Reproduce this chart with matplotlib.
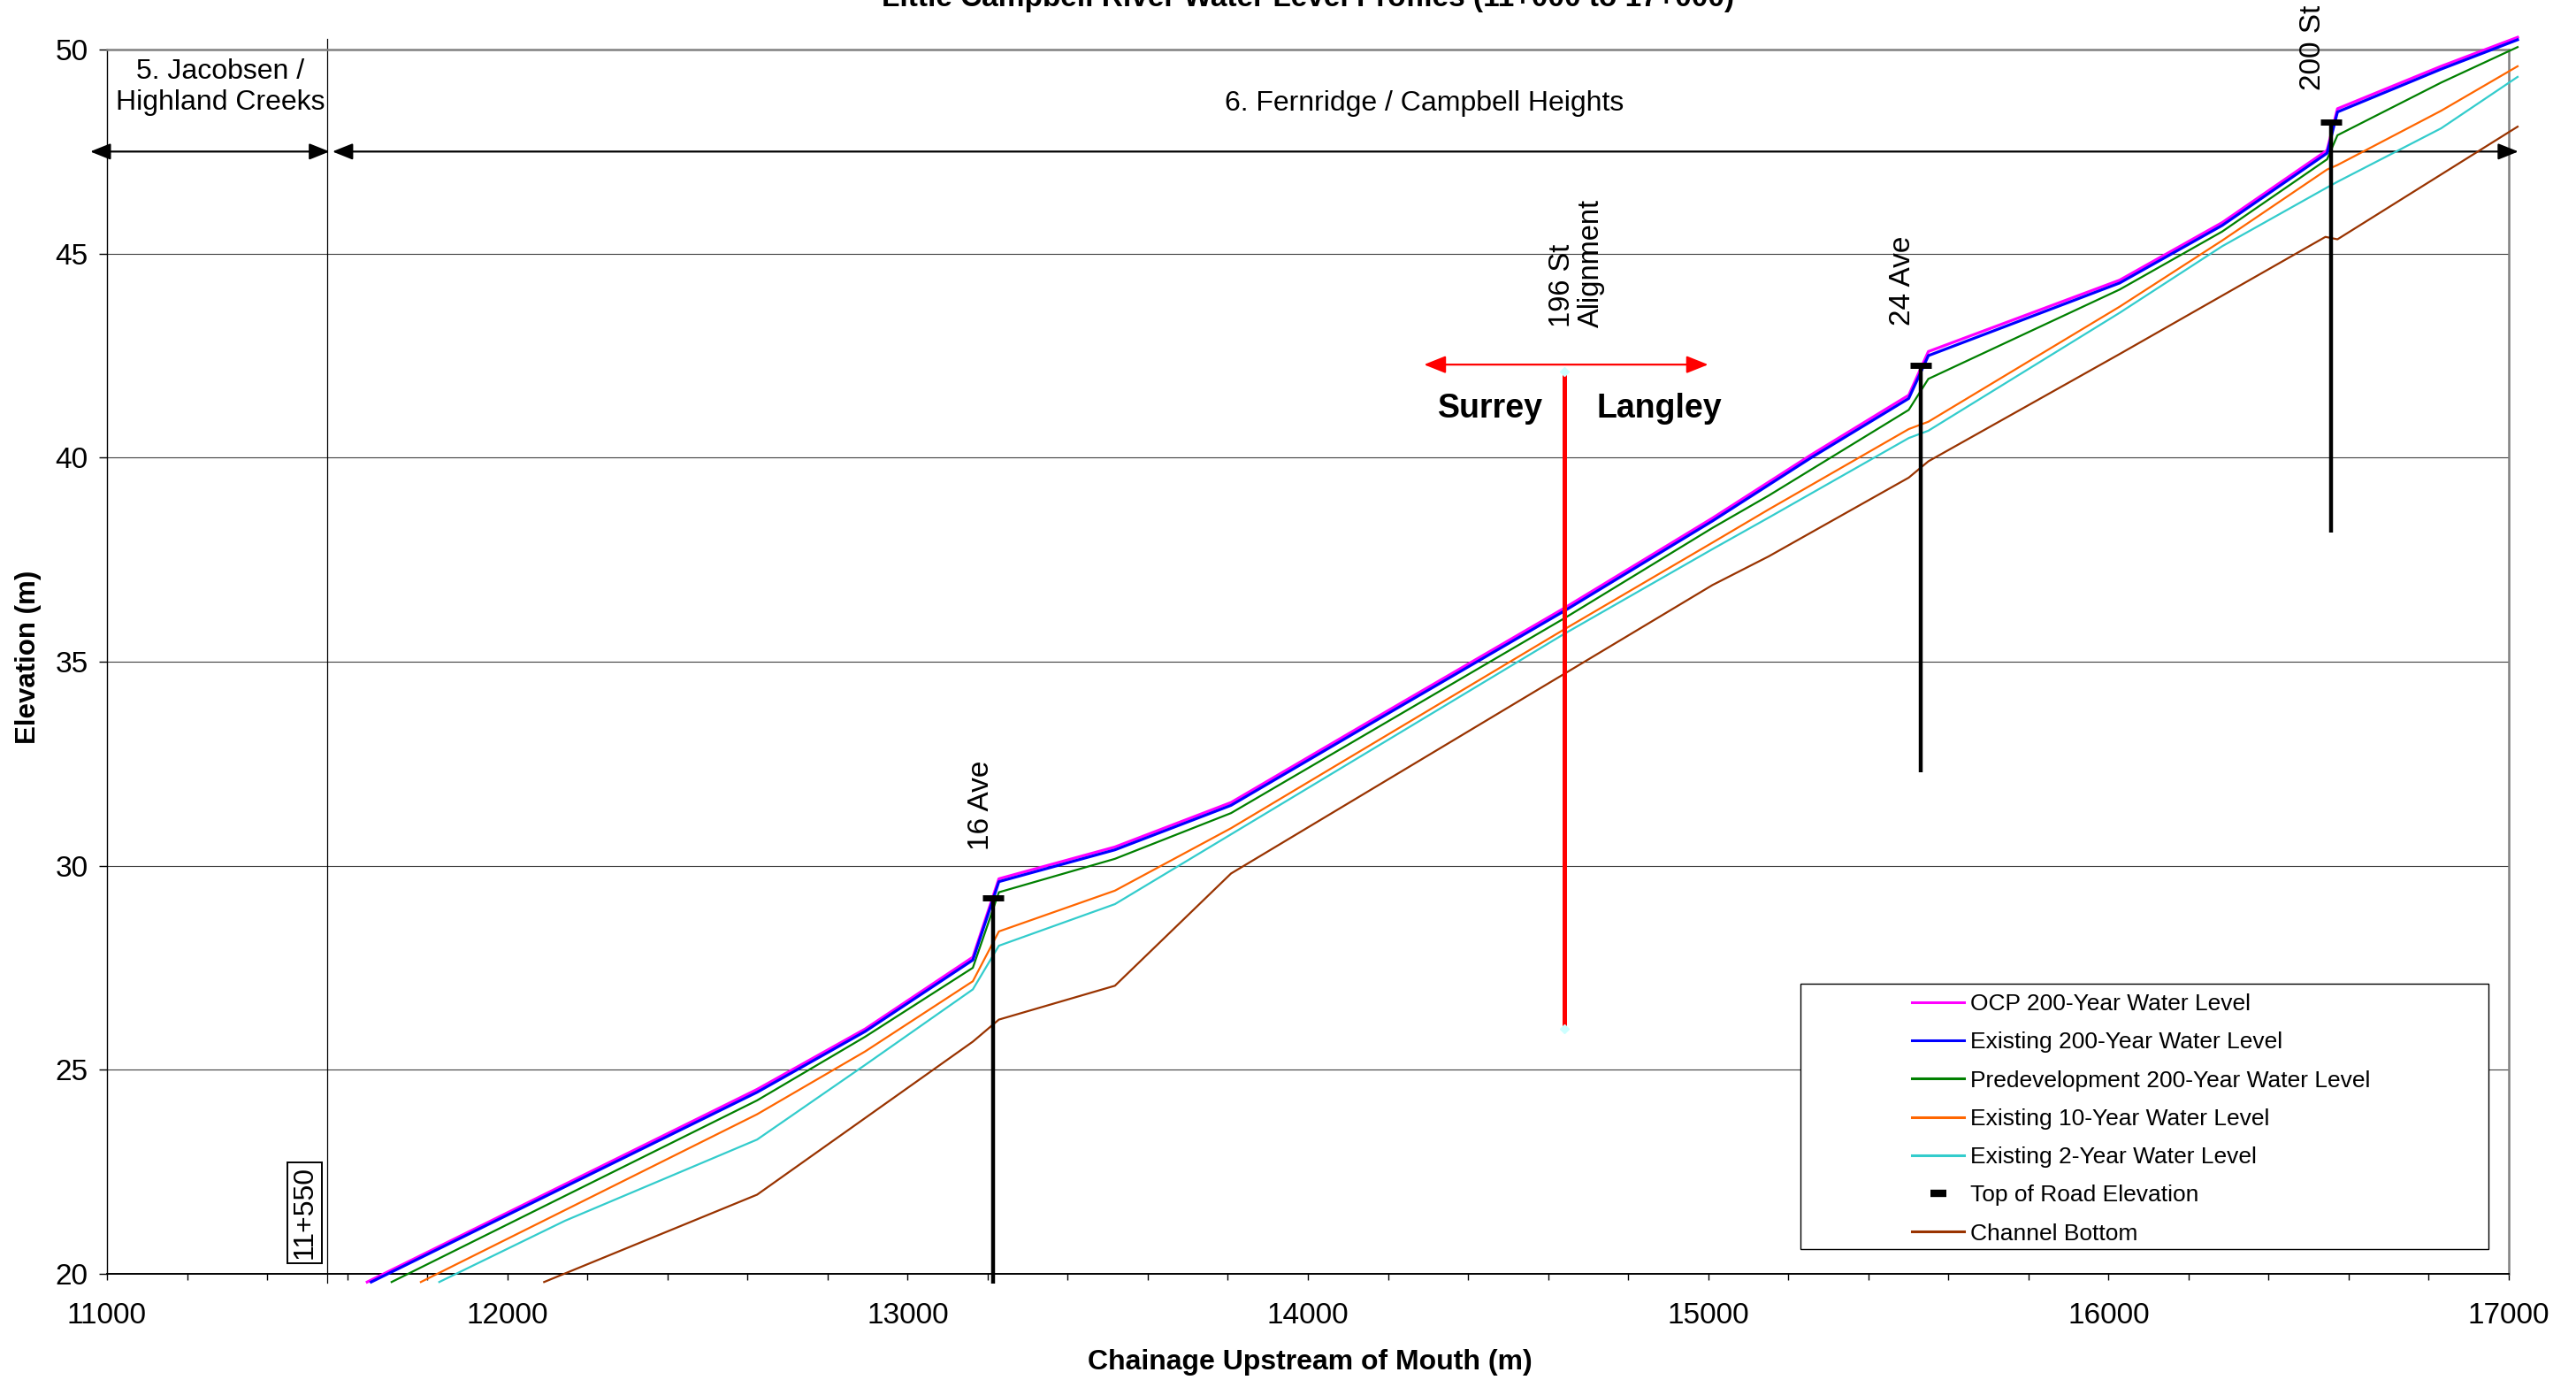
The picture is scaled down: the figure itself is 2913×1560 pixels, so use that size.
import matplotlib.pyplot as plt
from matplotlib.patches import Rectangle
from matplotlib.ticker import MultipleLocator

plt.rcParams['font.family'] = ['Liberation Sans', 'DejaVu Sans']

# ---- data ----
ocp_x = [11650, 12624, 12894, 13163, 13228, 13518, 13808, 14200, 14640, 15011,
         15259, 15501, 15550, 16028, 16284, 16546, 16572, 16831, 17022]
ocp_y = [19.80, 24.52, 26.00, 27.76, 29.68, 30.46, 31.55, 33.80, 36.31, 38.52,
         40.08, 41.53, 42.60, 44.35, 45.76, 47.53, 48.55, 49.59, 50.30]

ex200_x = [11660, 12624, 12894, 13163, 13228, 13518, 13808, 14200, 14640, 15011,
           15259, 15501, 15550, 16028, 16284, 16546, 16572, 16831, 17022]
ex200_y = [19.80, 24.45, 25.94, 27.69, 29.61, 30.39, 31.48, 33.73, 36.24, 38.45,
           40.01, 41.45, 42.50, 44.28, 45.69, 47.46, 48.47, 49.52, 50.24]

pre_x = [11711, 12624, 12894, 13163, 13228, 13518, 13808, 14640, 15011, 15151,
         15501, 15550, 16028, 16284, 16546, 16572, 16831, 17022]
pre_y = [19.80, 24.25, 25.81, 27.50, 29.35, 30.17, 31.29, 36.06, 38.28, 39.07,
         41.17, 41.93, 44.12, 45.54, 47.31, 47.90, 49.19, 50.06]

ex10_x = [11784, 12624, 12894, 13163, 13228, 13518, 13808, 14640, 15011, 15151,
          15501, 15550, 16028, 16284, 16546, 16572, 16831, 17022]
ex10_y = [19.80, 23.91, 25.45, 27.17, 28.39, 29.39, 30.92, 35.79, 37.92, 38.73,
          40.70, 40.88, 43.70, 45.32, 47.06, 47.17, 48.50, 49.59]

ex2_x = [11830, 12144, 12624, 12894, 13163, 13228, 13518, 13808, 14640, 15011,
         15151, 15501, 15550, 16028, 16284, 16546, 16572, 16831, 17022]
ex2_y = [19.80, 21.30, 23.29, 25.12, 26.97, 28.04, 29.06, 30.77, 35.68, 37.76,
         38.53, 40.48, 40.66, 43.55, 45.18, 46.62, 46.76, 48.07, 49.33]

bottom_x = [12092, 12624, 13163, 13228, 13518, 13808, 15011, 15151, 15501, 15550,
            16028, 16542, 16572, 17022]
bottom_y = [19.80, 21.94, 25.69, 26.23, 27.06, 29.81, 36.88, 37.58, 39.51, 39.91,
            42.54, 45.41, 45.35, 48.11]

road_names = ["16 Ave", "24 Ave", "200 St"]
road_x = [13213, 15531, 16557]
road_top = [29.22, 42.27, 48.22]
road_low = [19.76, 32.28, 38.17]
road_label_x = [13183, 15486, 16510]
road_label_y = [30.39, 43.24, 49.01]

boundary_x = 14640
boundary_top = 42.1
boundary_low = 26.0

reach_split = 11550

fig = plt.figure(figsize=(29.13, 15.6), dpi=100)
ax = fig.add_axes([121 / 2913, 1 - 1440 / 1560, (2837 - 121) / 2913, (1440 - 56) / 1560])

ax.set_xlim(11000, 17000)
ax.set_ylim(20, 50)

# horizontal grid
for g in [25, 30, 35, 40, 45]:
    ax.axhline(g, color='#404040', lw=0.8, zorder=1)

# reach divider
ax.plot([reach_split, reach_split], [19.78, 50.25], color='black', lw=0.9, clip_on=False, zorder=2)

# water levels
ax.plot(ocp_x, ocp_y, color='#FF00FF', lw=2.3, clip_on=False, zorder=4, label='OCP 200-Year Water Level')
ax.plot(ex200_x, ex200_y, color='#0000FF', lw=2.3, clip_on=False, zorder=5, label='Existing 200-Year Water Level')
ax.plot(pre_x, pre_y, color='#008000', lw=1.6, clip_on=False, zorder=4, label='Predevelopment 200-Year Water Level')
ax.plot(ex10_x, ex10_y, color='#FF6600', lw=1.6, clip_on=False, zorder=4, label='Existing 10-Year Water Level')
ax.plot(ex2_x, ex2_y, color='#33CCCC', lw=1.6, clip_on=False, zorder=4, label='Existing 2-Year Water Level')

# roads
for i in range(len(road_x)):
    ax.plot([road_x[i], road_x[i]], [road_low[i], road_top[i]], color='black', lw=3.2,
            clip_on=False, zorder=6, solid_capstyle='butt')
    ax.text(road_label_x[i], road_label_y[i], road_names[i], rotation=90, ha='center',
            va='bottom', fontsize=24, clip_on=False)
ax.plot(road_x, road_top, linestyle='none', marker='_', ms=17, mew=5, color='black',
        clip_on=False, zorder=7, label='Top of Road Elevation')

ax.plot(bottom_x, bottom_y, color='#993300', lw=1.6, clip_on=False, zorder=4, label='Channel Bottom')

# municipal boundary
ax.plot([boundary_x, boundary_x], [boundary_low, boundary_top], color='#FF0000', lw=3.6,
        zorder=6, solid_capstyle='butt')
ax.plot([boundary_x, boundary_x], [boundary_low, boundary_top], linestyle='none', marker='D',
        ms=5, color='#CCFFFF', zorder=7)
ax.annotate('', xy=(14290, 42.28), xytext=(15000, 42.28),
            arrowprops=dict(arrowstyle='<|-|>,head_length=0.75,head_width=0.3', color='#FF0000',
                            lw=1.6, shrinkA=0, shrinkB=0, mutation_scale=20))
ax.text(14457, 41.2, 'Surrey', ha='center', va='center', fontsize=27, fontweight='bold')
ax.text(14877, 41.2, 'Langley', ha='center', va='center', fontsize=27, fontweight='bold')
ax.text(14672, 43.2, '196 St\nAlignment', rotation=90, ha='center', va='bottom',
        fontsize=23.5, multialignment='left', linespacing=1.1)

# reach arrows and names
arrow_style = dict(arrowstyle='<|-|>,head_length=0.7,head_width=0.28', color='black',
                   lw=1.6, shrinkA=0, shrinkB=0, mutation_scale=20)
ax.annotate('', xy=(10958, 47.5), xytext=(11556, 47.5), arrowprops=arrow_style, annotation_clip=False)
ax.annotate('', xy=(11563, 47.5), xytext=(17024, 47.5), arrowprops=arrow_style, annotation_clip=False)
ax.text(11284, 49.08, '5. Jacobsen /\nHighland Creeks', ha='center', va='center', fontsize=23,
        linespacing=1.25)
ax.text(14290, 48.68, '6. Fernridge / Campbell Heights', ha='center', va='center', fontsize=23)

ax.text(11494, 21.5, '11+550', rotation=90, ha='center', va='center', fontsize=23,
        bbox=dict(boxstyle='square,pad=0.15', fc='white', ec='black', lw=1.4))

# axes styling
ax.xaxis.set_major_locator(MultipleLocator(1000))
ax.xaxis.set_minor_locator(MultipleLocator(200))
ax.yaxis.set_major_locator(MultipleLocator(5))
ax.tick_params(axis='x', which='both', direction='out', length=5, width=1, labelsize=24, pad=18)
ax.tick_params(axis='y', which='major', direction='out', length=6.5, width=1, labelsize=24, pad=9)
for s in ['top', 'right']:
    ax.spines[s].set_color('#808080')
    ax.spines[s].set_linewidth(1.8)
ax.spines['left'].set_linewidth(1.0)
ax.spines['bottom'].set_linewidth(1.4)

fig.text(1481 / 2913, 1 - 1540 / 1560, 'Chainage Upstream of Mouth (m)', ha='center', va='center',
         fontsize=23, fontweight='bold')
fig.text(32 / 2913, 1 - 743 / 1560, 'Elevation (m)', rotation=90, ha='center', va='center',
         fontsize=22.5, fontweight='bold')
fig.text(0.5078, 1 - 7 / 1560, 'Little Campbell River Water Level Profiles (11+000 to 17+000)',
         ha='center', va='baseline', fontsize=24, fontweight='bold')

# legend with a fixed frame like the original
fig.patches.append(Rectangle((2036 / 2913, 1 - 1412 / 1560), 778 / 2913, 300 / 1560,
                             transform=fig.transFigure, fc='white', ec='black', lw=1.0, zorder=8))
handles, labels = ax.get_legend_handles_labels()
leg = fig.legend(handles, labels,
                 loc='upper left', bbox_to_anchor=(2162 / 2913, 1 - 1123 / 1560),
                 frameon=False, fontsize=19, handlelength=2.25, handletextpad=0.25,
                 labelspacing=0.73, borderpad=0, borderaxespad=0, numpoints=1)
leg.set_zorder(9)
for h in leg.legend_handles:
    if h.get_marker() == '_':
        h.set_markersize(13)
        h.set_markeredgewidth(6)
    else:
        h.set_linewidth(2.2)

fig.savefig('out.png', dpi=100)
